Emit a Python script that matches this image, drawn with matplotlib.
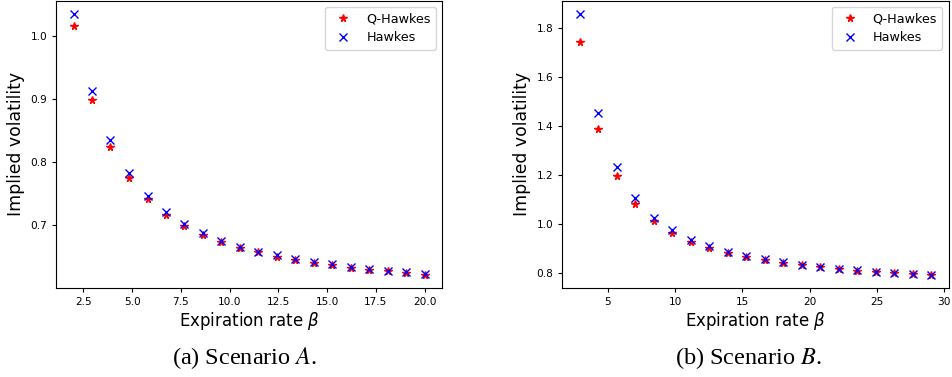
import matplotlib
matplotlib.use("Agg")
import matplotlib.pyplot as plt

# Scenario A
beta_a = [2.0, 2.95, 3.89, 4.84, 5.79, 6.74, 7.68, 8.63, 9.58, 10.53,
          11.47, 12.42, 13.37, 14.32, 15.26, 16.21, 17.16, 18.11, 19.05, 20.0]
qhawkes_a = [1.016, 0.898, 0.824, 0.774, 0.741, 0.716, 0.698, 0.685, 0.673, 0.664,
             0.657, 0.650, 0.645, 0.640, 0.636, 0.632, 0.629, 0.627, 0.624, 0.621]
hawkes_a = [1.035, 0.913, 0.834, 0.783, 0.746, 0.721, 0.702, 0.687, 0.675, 0.666,
            0.658, 0.652, 0.646, 0.642, 0.638, 0.634, 0.631, 0.628, 0.626, 0.623]

# Scenario B
beta_b = [2.9, 4.28, 5.65, 7.03, 8.4, 9.78, 11.15, 12.53, 13.9, 15.28,
          16.65, 18.03, 19.4, 20.78, 22.15, 23.53, 24.9, 26.28, 27.65, 29.03]
qhawkes_b = [1.744, 1.389, 1.195, 1.081, 1.010, 0.961, 0.926, 0.901, 0.880, 0.865,
             0.851, 0.840, 0.830, 0.821, 0.814, 0.807, 0.801, 0.797, 0.793, 0.789]
hawkes_b = [1.859, 1.453, 1.232, 1.103, 1.025, 0.972, 0.935, 0.907, 0.885, 0.868,
            0.854, 0.843, 0.832, 0.824, 0.816, 0.810, 0.804, 0.799, 0.795, 0.791]

captions = [("(a) Scenario ", "A"), ("(b) Scenario ", "B")]

W, H = 952, 377
fig = plt.figure(figsize=(W / 100, H / 100), dpi=100)

# axes boxes in pixels: left, right, bottom (from top)
boxes = [(56, 442.3, 288.0), (562, 948.7, 288.3)]
panels = [(beta_a, qhawkes_a, hawkes_a), (beta_b, qhawkes_b, hawkes_b)]
caption_x = [245, 748]

for (l, r, b), (xs, q, h), cx, (cap, letter) in zip(boxes, panels, caption_x, captions):
    ax = fig.add_axes([l / W, (H - b) / H, (r - l) / W, (b - 0.5) / H])
    ax.plot(xs, q, '*', color='red', markersize=5.3, linestyle='none', label='Q-Hawkes')
    ax.plot(xs, h, 'x', color='blue', markersize=5.3, linestyle='none', label='Hawkes')
    ax.set_xlabel(r'Expiration rate $\beta$', fontsize=12, labelpad=2)
    ax.set_ylabel('Implied volatility', fontsize=12.4)
    ax.tick_params(labelsize=7.6, length=2.8, width=0.8)
    ax.legend(loc='upper right', fontsize=9.2)
    fig.text(cx / W, 1 - 358 / H, cap + r'$\mathit{' + letter + '}$.',
             ha='center', va='center', fontsize=17.5, family='Liberation Serif',
             math_fontfamily='stix')

fig.savefig('out.png', dpi=100)
